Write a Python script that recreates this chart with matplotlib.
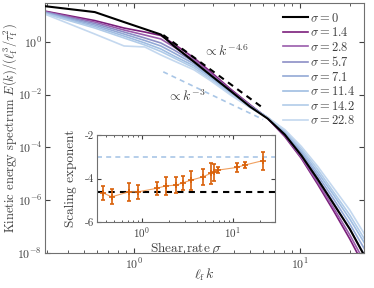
import numpy as np
import matplotlib
matplotlib.use("Agg")
import matplotlib.pyplot as plt

plt.rcParams['font.family'] = 'serif'
plt.rcParams['font.serif'] = ['cmr10']
plt.rcParams['mathtext.fontset'] = 'cm'
plt.rcParams['axes.formatter.use_mathtext'] = True
plt.rcParams['axes.unicode_minus'] = False

# wavenumbers (l_f k) shared by all spectra
k = [0.29, 0.58, 0.87, 1.16, 1.45, 1.74, 2.3, 2.9, 3.8, 5.0, 6.4, 8.1,
     10.2, 12.8, 16.0, 20.0, 24.5]

sigmas = ['0', '1.4', '2.8', '5.7', '7.1', '11.4', '14.2', '22.8']

E_s0 = [22.8, 13.6, 5.69, 3.09, 1.92, 0.706, 0.176, 0.0544, 0.0142, 3.53e-3,
        1.24e-3, 3.1e-4, 4.99e-5, 6.2e-6, 7.06e-7, 8.05e-8, 7.7e-9]
E_s1 = [14.8, 6.48, 3.38, 2.39, 1.76, 0.84, 0.249, 0.0738, 0.0168, 4.2e-3,
        1.24e-3, 2.6e-4, 3.85e-5, 4.02e-6, 3.85e-7, 3.37e-8, 2.96e-9]
E_s2 = [14.2, 5.69, 2.84, 1.84, 1.30, 0.648, 0.209, 0.0648, 0.0154, 4.02e-3,
        1.30e-3, 2.84e-4, 4.2e-5, 4.78e-6, 4.99e-7, 4.78e-8, 4.57e-9]
E_s3 = [13.6, 4.99, 2.39, 1.42, 0.917, 0.499, 0.176, 0.0569, 0.0142, 3.85e-3,
        1.36e-3, 3.23e-4, 5.44e-5, 6.76e-6, 7.7e-7, 8.05e-8, 8.4e-9]
E_s4 = [13.0, 4.38, 2.0, 1.14, 0.706, 0.385, 0.148, 0.0478, 0.013, 3.68e-3,
        1.36e-3, 3.52e-4, 6.48e-5, 8.78e-6, 1.09e-6, 1.24e-7, 1.42e-8]
E_s5 = [12.4, 3.85, 1.68, 0.917, 0.544, 0.296, 0.124, 0.0438, 0.0119, 3.53e-3,
        1.36e-3, 4.02e-4, 7.7e-5, 1.14e-5, 1.55e-6, 1.92e-7, 2.38e-8]
E_s6 = [11.9, 3.38, 1.42, 0.77, 0.438, 0.249, 0.104, 0.0368, 0.0109, 3.38e-3,
        1.36e-3, 4.38e-4, 9.17e-5, 1.48e-5, 2.0e-6, 2.72e-7, 3.37e-8]
E_s7 = [11.4, 2.0, 0.706, 0.648, 0.323, 0.192, 0.0877, 0.0338, 0.01, 3.23e-3,
        1.36e-3, 4.78e-4, 1.09e-4, 1.92e-5, 2.84e-6, 4.2e-7, 5.21e-8]
spectra = [E_s0, E_s1, E_s2, E_s3, E_s4, E_s5, E_s6, E_s7]

colors = ['black', '#7b1f7b', '#9a5cab', '#8c8fc6', '#93a9d6',
          '#a0bde2', '#b1cce9', '#c4d8ef']

# inset: fitted scaling exponent vs shear rate
shear = [0.37, 0.465, 0.72, 0.91, 1.45, 1.82, 2.4, 2.84, 3.5, 4.7, 5.7, 6.2,
         6.9, 11.0, 13.5, 21.2]
expo = [-4.65, -4.84, -4.61, -4.61, -4.45, -4.34, -4.30, -4.19, -4.07, -3.92,
        -3.76, -3.72, -3.61, -3.49, -3.38, -3.18]
expo_err = [0.32, 0.35, 0.4, 0.32, 0.3, 0.4, 0.36, 0.33, 0.44, 0.38, 0.47,
            0.4, 0.15, 0.19, 0.15, 0.42]

grey = '#404040'

fig = plt.figure(figsize=(3.74, 2.88), dpi=100)
ax = fig.add_axes([0.120, 0.1215, 0.853, 0.868])

for E, s, c in zip(spectra, sigmas, colors):
    ax.plot(k, E, color=c, lw=1.5 if s == '0' else 1.2,
            label=r'$\sigma = %s$' % s, zorder=3 if s == '0' else 2)

# reference power laws
kk = np.array([1.5, 6.0])
ax.plot(kk, 1.84 * (kk / 1.5) ** -4.6, '--', color='black', lw=1.5, dashes=(3, 2.5))
ax.plot(kk, 0.0738 * (kk / 1.5) ** -3.0, '--', color='#a9c6e6', lw=1.2, dashes=(3, 2.5))
ax.text(2.6, 0.45, r'$\propto k^{-4.6}$', fontsize=10, color=grey, va='center')
ax.text(1.58, 9e-3, r'$\propto k^{-3}$', fontsize=10, color=grey, va='center')

ax.set_xscale('log')
ax.set_yscale('log')
ax.set_xlim(0.29, 24.3)
ax.set_ylim(1e-8, 30)
ax.set_yticks([1e-8, 1e-6, 1e-4, 1e-2, 1e0])
ax.yaxis.set_minor_locator(matplotlib.ticker.NullLocator())
ax.tick_params(which='both', direction='in', top=True, right=True,
               colors=grey, labelsize=8.5)
ax.tick_params(axis='y', pad=2)
ax.tick_params(axis='x', pad=3)
ax.tick_params(which='major', length=3.5)
ax.tick_params(which='minor', length=2)
for sp in ax.spines.values():
    sp.set_color('#707070')
ax.set_xlabel(r'$\ell_{\rm f}\,k$', fontsize=10, color=grey)
ax.set_ylabel(r'Kinetic energy spectrum $E(k)/(\ell_{\rm f}^3/\tau_{\rm f}^2)$',
              fontsize=9, color=grey)
ax.xaxis.set_label_coords(0.5, -0.055)
ax.yaxis.set_label_coords(-0.08, 0.5)

ax.legend(loc='upper right', frameon=False, fontsize=9, handlelength=2,
          handletextpad=0.2, labelspacing=0.12, borderaxespad=0.3,
          labelcolor=grey)

# inset
ins = fig.add_axes([0.259, 0.229, 0.476, 0.302])
ins.axhline(-4.6, color='black', ls='--', lw=1.5, dashes=(3, 2.5))
ins.axhline(-3.0, color='#a9c6e6', ls='--', lw=1.2, dashes=(3, 2.5))
ins.plot(shear, expo, color='#f0a060', lw=0.8)
ins.errorbar(shear, expo, yerr=expo_err, fmt='+', color='#d9610a', ms=5,
             mew=1.2, elinewidth=1.2, capsize=1.5, capthick=1.0)
ins.set_xscale('log')
ins.set_xlim(0.32, 29)
ins.set_ylim(-6, -2)
ins.set_yticks([-6, -4, -2], ['-6', '-4', '-2'])
ins.tick_params(which='both', direction='in', top=True, right=True,
                colors=grey, labelsize=8, pad=2)
ins.tick_params(which='major', length=3)
ins.tick_params(which='minor', length=1.5)
for sp in ins.spines.values():
    sp.set_color('#707070')
ins.set_xlabel(r'$\mathrm{Shear\ rate}\ \sigma$', fontsize=9.5, color=grey)
ins.set_ylabel('Scaling exponent', fontsize=9.5, color=grey)
ins.xaxis.set_label_coords(0.5, -0.218)
ins.yaxis.set_label_coords(-0.112, 0.5)

fig.savefig('out.png', dpi=100)
